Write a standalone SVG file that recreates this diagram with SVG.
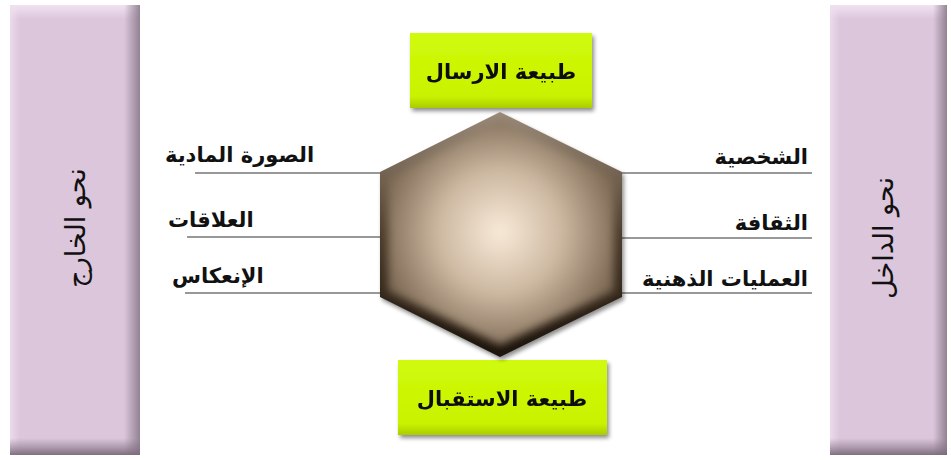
<svg xmlns="http://www.w3.org/2000/svg" width="951" height="460" viewBox="0 0 951 460">
<defs>
<style>
.lbl{font-family:"DejaVu Sans","Noto Sans",sans-serif;font-weight:bold;font-size:21px;fill:#111}
.box{font-family:"DejaVu Sans","Noto Sans",sans-serif;font-weight:bold;font-size:21px;fill:#111}
.vert{font-family:"DejaVu Sans","Noto Sans",sans-serif;font-size:27px;fill:#111}
.conn{stroke:#333;stroke-width:1.2;fill:none}
.panel{fill:#dcc6dc}
.green{fill:url(#gGreen)}
</style>
<linearGradient id="gRight" x1="0" y1="0" x2="1" y2="0">
<stop offset="0" stop-color="#8a7a8a" stop-opacity="0"/>
<stop offset="1" stop-color="#8a7a8a" stop-opacity="0.9"/>
</linearGradient>
<linearGradient id="gBottom" x1="0" y1="0" x2="0" y2="1">
<stop offset="0" stop-color="#8a7a8a" stop-opacity="0"/>
<stop offset="1" stop-color="#7a6a7a" stop-opacity="0.95"/>
</linearGradient>
<linearGradient id="gTop" x1="0" y1="0" x2="0" y2="1">
<stop offset="0" stop-color="#f3e6f3" stop-opacity="0.9"/>
<stop offset="1" stop-color="#f3e6f3" stop-opacity="0"/>
</linearGradient>
<linearGradient id="gLeft" x1="0" y1="0" x2="1" y2="0">
<stop offset="0" stop-color="#efe0ef" stop-opacity="0.8"/>
<stop offset="1" stop-color="#efe0ef" stop-opacity="0"/>
</linearGradient>
<linearGradient id="gGreen" x1="0" y1="0" x2="0" y2="1">
<stop offset="0" stop-color="#d0fa0a"/>
<stop offset="0.85" stop-color="#c8f200"/>
<stop offset="1" stop-color="#aacc00"/>
</linearGradient>
<radialGradient id="gHex" cx="500" cy="232" r="135" gradientUnits="userSpaceOnUse">
<stop offset="0" stop-color="#f8ead8"/>
<stop offset="0.45" stop-color="#cdb9a2"/>
<stop offset="0.8" stop-color="#8e7a64"/>
<stop offset="1" stop-color="#6a5844"/>
</radialGradient>
<linearGradient id="gHexOuter" x1="0" y1="0" x2="0" y2="1">
<stop offset="0" stop-color="#9a8a78"/>
<stop offset="0.5" stop-color="#4c3c2c"/>
<stop offset="1" stop-color="#1a120a"/>
</linearGradient>
<filter id="fBlur" x="-10%" y="-10%" width="120%" height="120%">
<feGaussianBlur stdDeviation="4"/>
</filter>
<filter id="fShadow" x="-10%" y="-10%" width="130%" height="130%">
<feGaussianBlur in="SourceAlpha" stdDeviation="2"/>
<feOffset dx="2" dy="3"/>
<feComponentTransfer><feFuncA type="linear" slope="0.45"/></feComponentTransfer>
<feMerge><feMergeNode/><feMergeNode in="SourceGraphic"/></feMerge>
</filter>
<clipPath id="cHex">
<polygon points="500,112 622,172 622,297 500,357 380,297 380,172"/>
</clipPath>
</defs>
<rect width="951" height="460" fill="#ffffff"/>

<g id="connectors">
<line class="conn" x1="195" y1="173" x2="381" y2="173"/>
<line class="conn" x1="187" y1="237" x2="381" y2="237"/>
<line class="conn" x1="185" y1="293" x2="381" y2="293"/>
<line class="conn" x1="621" y1="173" x2="812" y2="173"/>
<line class="conn" x1="621" y1="238" x2="812" y2="238"/>
<line class="conn" x1="621" y1="293" x2="812" y2="293"/>
</g>

<g id="panel-left">
<rect class="panel" x="10" y="5" width="130" height="450"/>
<rect x="10" y="5" width="130" height="14" fill="url(#gTop)"/>
<rect x="10" y="5" width="10" height="450" fill="url(#gLeft)"/>
<rect x="124" y="5" width="16" height="450" fill="url(#gRight)"/>
<rect x="10" y="438" width="130" height="17" fill="url(#gBottom)"/>
<text class="vert" transform="translate(75,228) rotate(-90)" text-anchor="middle" dominant-baseline="central">نحو الخارج</text>
</g>

<g id="panel-right">
<rect class="panel" x="830" y="5" width="117" height="450"/>
<rect x="830" y="5" width="117" height="14" fill="url(#gTop)"/>
<rect x="830" y="5" width="10" height="450" fill="url(#gLeft)"/>
<rect x="933" y="5" width="14" height="450" fill="url(#gRight)"/>
<rect x="830" y="438" width="117" height="17" fill="url(#gBottom)"/>
<text class="vert" transform="translate(883,238) rotate(-90)" text-anchor="middle" dominant-baseline="central">نحو الداخل</text>
</g>

<g id="box-top" filter="url(#fShadow)">
<rect class="green" x="410" y="33" width="182" height="75"/>
<text class="box" x="501" y="79" text-anchor="middle">طبيعة الارسال</text>
</g>

<g id="box-bottom" filter="url(#fShadow)">
<rect class="green" x="398" y="360" width="209" height="75"/>
<text class="box" x="502" y="406" text-anchor="middle">طبيعة الاستقبال</text>
</g>

<g id="hexagon" filter="url(#fShadow)">
<polygon points="500,112 622,172 622,297 500,357 380,297 380,172" fill="url(#gHexOuter)"/>
<g clip-path="url(#cHex)">
<polygon points="500,121 614,177 614,291 500,345 388,291 388,177" fill="url(#gHex)" filter="url(#fBlur)"/>
</g>
</g>

<g id="labels-left">
<text class="lbl" x="165" y="162" text-anchor="start">الصورة المادية</text>
<text class="lbl" x="168" y="227" text-anchor="start">العلاقات</text>
<text class="lbl" x="172" y="283" text-anchor="start">الإنعكاس</text>
</g>

<g id="labels-right">
<text class="lbl" x="808" y="164" text-anchor="end">الشخصية</text>
<text class="lbl" x="808" y="230" text-anchor="end">الثقافة</text>
<text class="lbl" x="808" y="286" text-anchor="end">العمليات الذهنية</text>
</g>
</svg>
